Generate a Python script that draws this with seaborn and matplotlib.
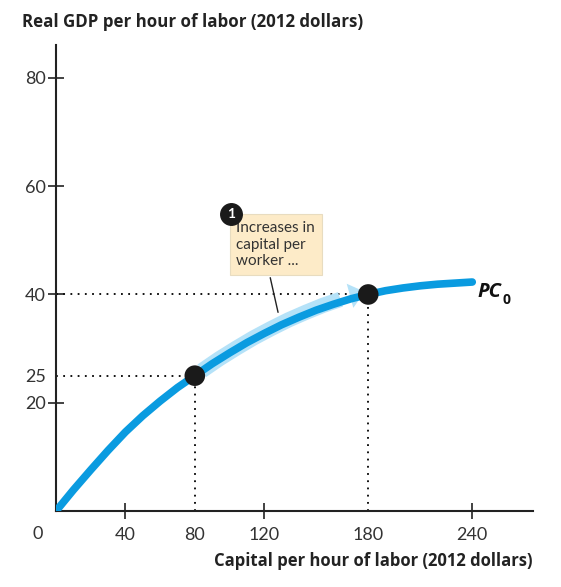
import numpy as np
import pandas as pd
import matplotlib.pyplot as plt
import seaborn as sns

# Productivity curve PC0: real GDP per hour vs capital per hour (2012 dollars)
capital = [0, 10, 20, 30, 40, 50, 60, 70, 80, 90, 100, 110, 120,
           130, 140, 150, 160, 170, 180, 190, 200, 210, 220, 230, 240]
real_gdp = [0, 3.9, 7.6, 11.2, 14.6, 17.6, 20.3, 22.8, 25, 27.2, 29.2, 31.1, 32.8,
            34.4, 35.8, 37.1, 38.2, 39.2, 40, 40.7, 41.2, 41.6, 41.9, 42.1, 42.3]

# highlighted points
point_capital = [80, 180]
point_gdp = [25, 40]

x_ticks = [40, 80, 120, 180, 240]
y_ticks = [20, 25, 40, 60, 80]

curve_color = "#0a9be0"
band_color = "#b5e2f8"

sns.set_style("white")
plt.rcParams["font.family"] = ["Lato", "DejaVu Sans"]

fig = plt.figure(figsize=(5.61, 5.87), dpi=100)
ax = fig.add_axes([0.1, 0.1295, 0.85, 0.793])

df = pd.DataFrame({"capital": capital, "gdp": real_gdp})

# light blue "movement along the curve" band with arrow head
band = df.iloc[8:17]
ax.plot(band["capital"] + 4, band["gdp"] + 0.9, color=band_color, lw=11,
        solid_capstyle="butt", zorder=2)
ax.annotate("", xy=(178, 40.5), xytext=(162, 39.1),
            arrowprops=dict(arrowstyle="-|>,head_length=1.1,head_width=0.9",
                            color=band_color, lw=0, shrinkA=0, shrinkB=0),
            zorder=2)

sns.lineplot(data=df, x="capital", y="gdp", color=curve_color, lw=5.5,
             ax=ax, zorder=3, solid_joinstyle="round")

# dotted guides
for px, py in zip(point_capital, point_gdp):
    ax.plot([0, px], [py, py], color="black", ls=(0, (1, 3)), lw=1.3, zorder=1)
    ax.plot([px, px], [0, py], color="black", ls=(0, (1, 3)), lw=1.3, zorder=1)

sns.scatterplot(x=point_capital, y=point_gdp, color="#1a1a1a", s=220,
                edgecolor="none", ax=ax, zorder=5)

ax.set_xlim(0, 275)
ax.set_ylim(0, 86)
ax.set_xticks(x_ticks)
ax.set_yticks(y_ticks)
ax.set_xticklabels([str(t) for t in x_ticks], fontsize=13, color="#333333")
ax.set_yticklabels([str(t) for t in y_ticks], fontsize=13, color="#333333")
ax.tick_params(bottom=True, left=True, direction="inout", length=11, width=1.2,
               colors="#222222", labelcolor="#333333")
ax.tick_params(axis="x", pad=6)
ax.tick_params(axis="y", pad=2)
for i, t in enumerate(x_ticks):
    if t in point_capital:
        ax.xaxis.get_major_ticks()[i].tick1line.set_visible(False)
for i, t in enumerate(y_ticks):
    if t == 25:
        ax.yaxis.get_major_ticks()[i].tick1line.set_visible(False)

for s in ["top", "right"]:
    ax.spines[s].set_visible(False)
for s in ["left", "bottom"]:
    ax.spines[s].set_color("#222222")
    ax.spines[s].set_linewidth(1.5)

ax.set_xlabel("")
ax.set_ylabel("")
ax.annotate("0", xy=(0, 0), xytext=(-18, -23), textcoords="offset pixels",
            ha="center", va="center", fontsize=13, color="#333333")

title_font = ["Open Sans", "DejaVu Sans"]
fig.text(0.039, 0.963, "Real GDP per hour of labor (2012 dollars)",
         fontsize=12.2, fontweight="bold", color="#222222", va="center",
         family=title_font)
fig.text(0.95, 0.045, "Capital per hour of labor (2012 dollars)",
         fontsize=12, fontweight="bold", color="#222222", ha="right", va="center",
         family=title_font)

# curve label
ax.text(243, 40.4, "PC", fontsize=14.5, fontweight="bold", fontstyle="italic",
        color="#111111", va="center", family=title_font)
ax.text(257.5, 39.0, "0", fontsize=10, fontweight="bold", color="#111111",
        va="center", family=title_font)

# callout box
ax.plot([123.5, 128], [43.1, 36.7], color="#222222", lw=1, zorder=4)
ax.text(104, 49.2, "Increases in\ncapital per\nworker ...", fontsize=11,
        color="#333333", va="center", ha="left", linespacing=1.25,
        bbox=dict(boxstyle="square,pad=0.45", fc="#fdebc8", ec="#e8dcc0", lw=0.8),
        zorder=6)
ax.scatter([101], [54.9], s=240, color="#1a1a1a", zorder=7)
ax.text(101, 54.9, "1", fontsize=10, fontweight="bold", color="white",
        ha="center", va="center", zorder=8)

fig.savefig("out.png", dpi=100)
